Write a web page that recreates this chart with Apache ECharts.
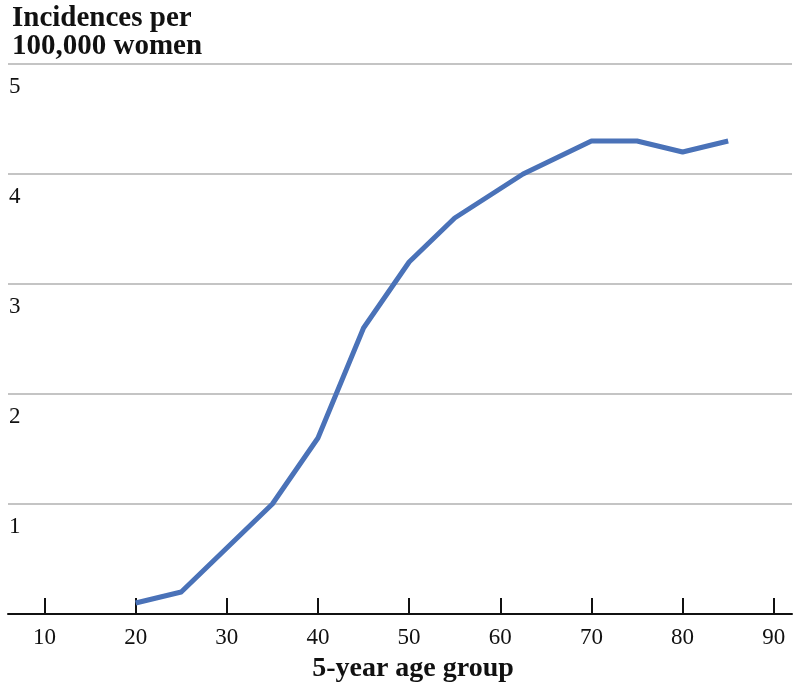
<!DOCTYPE html>
<html>
<head>
<meta charset="utf-8">
<script src="https://cdn.jsdelivr.net/npm/echarts@6/dist/echarts.min.js"></script>
<style>html,body{margin:0;padding:0;background:#fff}#c{width:800px;height:693px}</style>
</head>
<body>
<div id="c"></div>
<script>
const ages = [20, 25, 35, 40, 45, 50, 55, 62.5, 70, 75, 80, 85];
const incidences = [0.1, 0.2, 1.0, 1.6, 2.6, 3.2, 3.6, 4.0, 4.3, 4.3, 4.2, 4.3];
const xTicks = [10, 20, 30, 40, 50, 60, 70, 80, 90];
const yTicks = [1, 2, 3, 4, 5];
const yTitle = 'Incidences per\n100,000 women';
const xTitle = '5-year age group';

const FONT = '"Liberation Serif", "DejaVu Serif", serif';
const chart = echarts.init(document.getElementById('c'), null, {renderer: 'canvas'});
chart.setOption({
  animation: false,
  backgroundColor: '#fff',
  title: [
    {text: yTitle, left: 7, top: 0,
     textStyle: {fontFamily: FONT, fontWeight: 'bold', fontSize: 29, lineHeight: 28, color: '#111'}},
    {text: xTitle, left: 408, top: 650, textAlign: 'center',
     textStyle: {fontFamily: FONT, fontWeight: 'bold', fontSize: 28, color: '#111'}}
  ],
  grid: {left: 8, right: 8, top: 64, bottom: 79, containLabel: false},
  xAxis: {
    type: 'value', min: 6, max: 92,
    axisLine: {show: true, onZero: false, lineStyle: {color: '#111', width: 2}},
    axisTick: {show: true, inside: true, length: 16, customValues: xTicks, lineStyle: {color: '#111', width: 2}},
    axisLabel: {customValues: xTicks, margin: 12, fontFamily: FONT, fontSize: 23, color: '#111', verticalAlign: 'top'},
    splitLine: {show: false}
  },
  yAxis: {
    type: 'value', min: 0, max: 5, interval: 1,
    axisLine: {show: false}, axisTick: {show: false},
    axisLabel: {inside: true, margin: 1, fontFamily: FONT, fontSize: 23, color: '#111',
      verticalAlign: 'top', padding: [11, 0, 0, 0],
      formatter: v => (yTicks.includes(v) ? String(v) : '')},
    splitLine: {show: true, lineStyle: {color: '#c4c4c4', width: 2}}
  },
  series: [{
    type: 'line',
    data: ages.map((a, i) => [a, incidences[i]]),
    showSymbol: false,
    lineStyle: {color: '#4a72b8', width: 5, join: 'round'},
    itemStyle: {color: '#4a72b8'}
  }]
});
</script>
</body>
</html>
